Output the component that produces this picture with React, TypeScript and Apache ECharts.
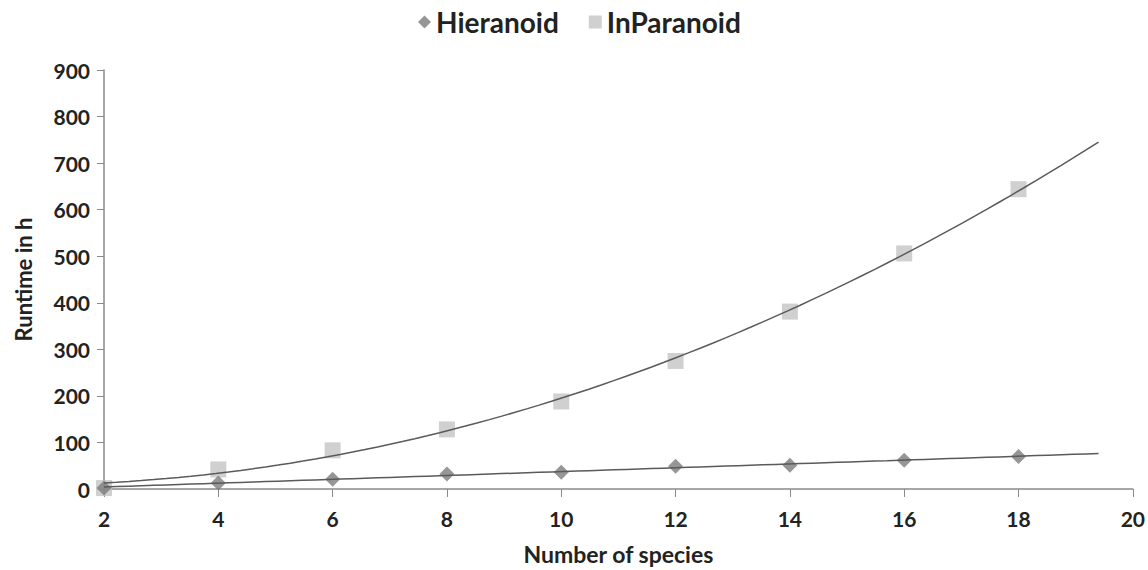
import React, { useEffect, useRef } from "react";
import * as echarts from "echarts";

const speciesCounts = [2, 4, 6, 8, 10, 12, 14, 16, 18];
const hieranoidRuntime = [2, 13, 21, 32, 36, 49, 51, 62, 70];
const inparanoidRuntime = [2, 42, 83, 128, 188, 275, 381, 506, 644];
const xTicks = { min: 2, max: 20, interval: 2 };
const yTicks = { min: 0, max: 900, interval: 100 };
const trendEnd = 19.4;

// least-squares polynomial fit of a given degree (trend line derived from the data)
function polyFit(xs: number[], ys: number[], deg: number): number[] {
  const n = deg + 1;
  const A: number[][] = Array.from({ length: n }, () => new Array(n + 1).fill(0));
  for (let r = 0; r < n; r++) {
    for (let c = 0; c < n; c++) {
      A[r][c] = xs.reduce((s, x) => s + Math.pow(x, r + c), 0);
    }
    A[r][n] = xs.reduce((s, x, i) => s + Math.pow(x, r) * ys[i], 0);
  }
  for (let i = 0; i < n; i++) {
    let p = i;
    for (let k = i + 1; k < n; k++) if (Math.abs(A[k][i]) > Math.abs(A[p][i])) p = k;
    [A[i], A[p]] = [A[p], A[i]];
    for (let k = i + 1; k < n; k++) {
      const f = A[k][i] / A[i][i];
      for (let j = i; j <= n; j++) A[k][j] -= f * A[i][j];
    }
  }
  const coef = new Array(n).fill(0);
  for (let i = n - 1; i >= 0; i--) {
    let s = A[i][n];
    for (let j = i + 1; j < n; j++) s -= A[i][j] * coef[j];
    coef[i] = s / A[i][i];
  }
  return coef;
}

function trendPoints(coef: number[], x0: number, x1: number): number[][] {
  const pts: number[][] = [];
  const steps = 80;
  for (let i = 0; i <= steps; i++) {
    const x = x0 + ((x1 - x0) * i) / steps;
    const y = coef.reduce((s, c, k) => s + c * Math.pow(x, k), 0);
    pts.push([x, y]);
  }
  return pts;
}

export default function App() {
  const ref = useRef<HTMLDivElement>(null);
  useEffect(() => {
    document.body.style.margin = "0";
    if (!ref.current) return;
    const chart = echarts.init(ref.current, undefined, { renderer: "svg" });
    const hCoef = polyFit(speciesCounts, hieranoidRuntime, 1);
    const iCoef = polyFit(speciesCounts, inparanoidRuntime, 2);
    const font = "Lato, 'Open Sans', sans-serif";
    chart.setOption({
      animation: false,
      backgroundColor: "#ffffff",
      textStyle: { fontFamily: font },
      legend: {
        top: 3,
        left: 413,
        itemGap: 30,
        itemWidth: 13,
        itemHeight: 13,
        textStyle: { fontSize: 28, fontWeight: "bold", color: "#222", fontFamily: font },
        data: [
          { name: "Hieranoid", icon: "diamond", itemStyle: { color: "#7c7c7c" } },
          { name: "InParanoid", icon: "rect", itemStyle: { color: "#c4c4c4" } },
        ],
      },
      grid: { left: 104, right: 13, top: 70, bottom: 79 },
      xAxis: {
        type: "value",
        min: xTicks.min,
        max: xTicks.max,
        interval: xTicks.interval,
        name: "Number of species",
        nameLocation: "middle",
        nameGap: 53,
        nameMoveOverlap: false,
        nameTextStyle: { fontSize: 23, fontWeight: "bold", color: "#222", fontFamily: font },
        axisLine: { show: true, onZero: false, lineStyle: { color: "#8a8a8a", width: 1.5 } },
        axisTick: { show: true, inside: false, length: 8, lineStyle: { color: "#8a8a8a" } },
        axisLabel: { fontSize: 21, fontWeight: "bold", color: "#222", margin: 19, fontFamily: font },
        splitLine: { show: false },
      },
      yAxis: {
        type: "value",
        min: yTicks.min,
        max: yTicks.max,
        interval: yTicks.interval,
        name: "Runtime in h",
        nameLocation: "middle",
        nameGap: 70,
        nameRotate: 90,
        nameTextStyle: { fontSize: 22, fontWeight: "bold", color: "#222", fontFamily: font },
        axisLine: { show: true, lineStyle: { color: "#8a8a8a", width: 1.5 } },
        axisTick: { show: true, length: 7, lineStyle: { color: "#8a8a8a" } },
        axisLabel: { fontSize: 21, fontWeight: "bold", color: "#222", margin: 14, fontFamily: font },
        splitLine: { show: false },
      },
      series: [
        {
          name: "Hieranoid-trend",
          type: "line",
          data: trendPoints(hCoef, xTicks.min, trendEnd),
          showSymbol: false,
          symbol: "none",
          lineStyle: { color: "#5a5a5a", width: 1.5 },
          z: 3,
          silent: true,
        },
        {
          name: "InParanoid-trend",
          type: "line",
          data: trendPoints(iCoef, xTicks.min, trendEnd),
          showSymbol: false,
          symbol: "none",
          lineStyle: { color: "#5a5a5a", width: 1.5 },
          z: 3,
          silent: true,
        },
        {
          name: "InParanoid",
          type: "scatter",
          symbol: "rect",
          symbolSize: 16,
          itemStyle: { color: "#c4c4c4" },
          data: speciesCounts.map((x, i) => [x, inparanoidRuntime[i]]),
          z: 2,
        },
        {
          name: "Hieranoid",
          type: "scatter",
          symbol: "diamond",
          symbolSize: 15,
          itemStyle: { color: "#7c7c7c" },
          data: speciesCounts.map((x, i) => [x, hieranoidRuntime[i]]),
          z: 2,
        },
      ],
    });
    return () => chart.dispose();
  }, []);
  return <div ref={ref} style={{ width: 1148, height: 570 }} />;
}
